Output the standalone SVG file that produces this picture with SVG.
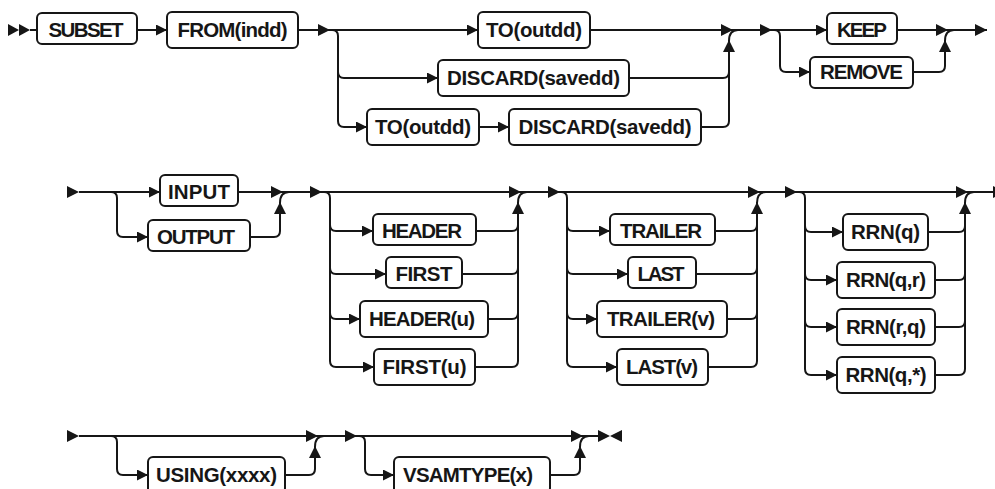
<svg xmlns="http://www.w3.org/2000/svg" width="995" height="489" viewBox="0 0 995 489">
<style>
.n rect{fill:#fff;stroke:#161616;stroke-width:2}
.n text{font-family:"Liberation Sans",Arial,sans-serif;font-weight:bold;font-size:20.5px;fill:#161616;text-anchor:middle}
#connectors path{fill:none;stroke:#161616;stroke-width:2}
#connectors path.s{stroke-width:0;fill:#161616}
.a{marker-end:url(#a)}
.g{marker-end:url(#g)}
</style>
<defs>
<marker id="a" markerUnits="userSpaceOnUse" viewBox="0 0 11 11" markerWidth="11" markerHeight="11" refX="11" refY="5.5" orient="auto"><path d="M0,0L11,5.5L0,11z" fill="#161616"/></marker>
<marker id="g" markerUnits="userSpaceOnUse" viewBox="0 0 12 12" markerWidth="12" markerHeight="12" refX="12" refY="6" orient="auto"><path d="M0,0L12,6L0,12z" fill="#161616"/></marker>
</defs>
<rect width="995" height="489" fill="#fff"/>
<g id="connectors">
<!-- row 1 -->
<path class="s" d="M8,24L19,30L8,36z"/>
<path class="s" d="M19,24L30,30L19,36z"/>
<path d="M30,30L37,30"/>
<path class="a" d="M137,30L167,30"/>
<path class="g" d="M298,30L330,30"/>
<path class="a" d="M330,30L478,30"/>
<path class="a" d="M332,30Q338,30 338,36L338,72Q338,78 344,78L438,78"/>
<path class="a" d="M338,72L338,121Q338,127 344,127L367,127"/>
<path class="a" d="M479,127L509,127"/>
<path class="g" d="M590,30L733,30"/>
<path class="g" d="M629,78L723,78Q729,78 729,72L729,40"/>
<path d="M701,127L723,127Q729,127 729,121L729,72"/>
<path d="M729,41Q729,30 738,30"/>
<path class="g" d="M733,30L772,30"/>
<path class="a" d="M772,30L827,30"/>
<path class="a" d="M774,30Q780,30 780,36L780,66Q780,72 786,72L810,72"/>
<path class="g" d="M897,30L948,30"/>
<path class="g" d="M913,72L939,72Q945,72 945,66L945,40"/>
<path d="M945,41Q945,30 954,30"/>
<path class="g" d="M948,30L987,30"/>
<!-- row 2 -->
<path class="s" d="M67,186L79,192L67,198z"/>
<path class="a" d="M79,192L160,192"/>
<path class="a" d="M111,192Q117,192 117,198L117,231Q117,237 123,237L148,237"/>
<path class="g" d="M238,192L283,192"/>
<path class="g" d="M250,237L274,237Q280,237 280,231L280,202"/>
<path d="M280,203Q280,192 289,192"/>
<path class="g" d="M283,192L322,192"/>
<path class="g" d="M322,192L521,192"/>
<path class="a" d="M324,192Q330,192 330,198L330,225Q330,231 336,231L373,231"/>
<path class="a" d="M330,225L330,268Q330,274 336,274L386,274"/>
<path class="a" d="M330,268L330,313Q330,319 336,319L360,319"/>
<path class="a" d="M330,313L330,361Q330,367 336,367L374,367"/>
<path class="g" d="M476,231L512,231Q518,231 518,225L518,202"/>
<path d="M462,274L512,274Q518,274 518,268L518,225"/>
<path d="M488,319L512,319Q518,319 518,313L518,268"/>
<path d="M475,367L512,367Q518,367 518,361L518,313"/>
<path d="M518,203Q518,192 527,192"/>
<path class="g" d="M521,192L560,192"/>
<path class="g" d="M560,192L760,192"/>
<path class="a" d="M561,192Q567,192 567,198L567,225Q567,231 573,231L610,231"/>
<path class="a" d="M567,225L567,268Q567,274 573,274L628,274"/>
<path class="a" d="M567,268L567,313Q567,319 573,319L597,319"/>
<path class="a" d="M567,313L567,361Q567,367 573,367L617,367"/>
<path class="g" d="M715,231L751,231Q757,231 757,225L757,202"/>
<path d="M696,274L751,274Q757,274 757,268L757,225"/>
<path d="M727,319L751,319Q757,319 757,313L757,268"/>
<path d="M708,367L751,367Q757,367 757,361L757,313"/>
<path d="M757,203Q757,192 766,192"/>
<path class="g" d="M760,192L797,192"/>
<path class="g" d="M797,192L968,192"/>
<path class="a" d="M799,192Q805,192 805,198L805,226Q805,232 811,232L843,232"/>
<path class="a" d="M805,226L805,274Q805,280 811,280L837,280"/>
<path class="a" d="M805,274L805,321Q805,327 811,327L837,327"/>
<path class="a" d="M805,321L805,369Q805,375 811,375L837,375"/>
<path class="g" d="M928,232L959,232Q965,232 965,226L965,202"/>
<path d="M935,280L959,280Q965,280 965,274L965,226"/>
<path d="M935,327L959,327Q965,327 965,321L965,274"/>
<path d="M935,375L959,375Q965,375 965,369L965,321"/>
<path d="M965,203Q965,192 974,192"/>
<path class="g" d="M968,192L1005,192"/>
<!-- row 3 -->
<path class="s" d="M67,430L79,436L67,442z"/>
<path class="g" d="M79,436L318,436"/>
<path class="a" d="M111,436Q117,436 117,442L117,469Q117,475 123,475L148,475"/>
<path class="g" d="M285,475L309,475Q315,475 315,469L315,446"/>
<path d="M315,447Q315,436 324,436"/>
<path class="g" d="M318,436L357,436"/>
<path class="g" d="M357,436L583,436"/>
<path class="a" d="M359,436Q365,436 365,442L365,469Q365,475 371,475L394,475"/>
<path class="g" d="M550,475L574,475Q580,475 580,469L580,446"/>
<path d="M580,447Q580,436 589,436"/>
<path d="M583,436L598,436"/>
<path class="s" d="M598,430L610,436L598,442z"/>
<path class="s" d="M622,430L610,436L622,442z"/>
</g>
<g id="n-subset" class="n"><rect x="37" y="13" width="100" height="31" rx="5"/><text x="86" y="36.5" textLength="75">SUBSET</text></g>
<g id="n-from" class="n"><rect x="167" y="12" width="131" height="36" rx="5"/><text x="232.5" y="36.5" textLength="110">FROM(indd)</text></g>
<g id="n-to1" class="n"><rect x="478" y="12" width="112" height="36" rx="5"/><text x="534" y="36.5" textLength="96">TO(outdd)</text></g>
<g id="n-discard1" class="n"><rect x="438" y="60" width="191" height="36" rx="5"/><text x="533.5" y="84.5" textLength="173">DISCARD(savedd)</text></g>
<g id="n-to2" class="n"><rect x="367" y="109" width="112" height="36" rx="5"/><text x="423" y="133.5" textLength="96">TO(outdd)</text></g>
<g id="n-discard2" class="n"><rect x="509" y="109" width="192" height="36" rx="5"/><text x="605" y="133.5" textLength="173">DISCARD(savedd)</text></g>
<g id="n-keep" class="n"><rect x="827" y="13" width="70" height="31" rx="5"/><text x="862" y="36.5" textLength="50">KEEP</text></g>
<g id="n-remove" class="n"><rect x="810" y="57" width="103" height="31" rx="5"/><text x="861.5" y="78.5" textLength="83">REMOVE</text></g>
<g id="n-input" class="n"><rect x="160" y="175" width="78" height="31" rx="5"/><text x="199" y="198.5" textLength="62">INPUT</text></g>
<g id="n-output" class="n"><rect x="148" y="220" width="102" height="31" rx="5"/><text x="196" y="243.5" textLength="78">OUTPUT</text></g>
<g id="n-header" class="n"><rect x="373" y="214" width="103" height="31" rx="5"/><text x="422" y="237.5" textLength="80">HEADER</text></g>
<g id="n-first" class="n"><rect x="386" y="257" width="76" height="31" rx="5"/><text x="424" y="280.5" textLength="57">FIRST</text></g>
<g id="n-headeru" class="n"><rect x="360" y="301" width="128" height="36" rx="5"/><text x="422" y="325.5" textLength="106">HEADER(u)</text></g>
<g id="n-firstu" class="n"><rect x="374" y="349" width="101" height="36" rx="5"/><text x="424.5" y="373.5" textLength="84">FIRST(u)</text></g>
<g id="n-trailer" class="n"><rect x="610" y="214" width="105" height="31" rx="5"/><text x="661" y="237.5" textLength="82">TRAILER</text></g>
<g id="n-last" class="n"><rect x="628" y="257" width="68" height="31" rx="5"/><text x="661" y="280.5" textLength="47">LAST</text></g>
<g id="n-trailerv" class="n"><rect x="597" y="301" width="130" height="36" rx="5"/><text x="661" y="325.5" textLength="108">TRAILER(v)</text></g>
<g id="n-lastv" class="n"><rect x="617" y="349" width="91" height="36" rx="5"/><text x="662" y="373.5" textLength="72">LAST(v)</text></g>
<g id="n-rrnq" class="n"><rect x="843" y="214" width="85" height="36" rx="5"/><text x="885.5" y="238.5" textLength="69">RRN(q)</text></g>
<g id="n-rrnqr" class="n"><rect x="837" y="262" width="98" height="36" rx="5"/><text x="886" y="286.5" textLength="80">RRN(q,r)</text></g>
<g id="n-rrnrq" class="n"><rect x="837" y="309" width="98" height="36" rx="5"/><text x="886" y="333.5" textLength="80">RRN(r,q)</text></g>
<g id="n-rrnqs" class="n"><rect x="837" y="357" width="98" height="36" rx="5"/><text x="886" y="381.5" textLength="81">RRN(q,*)</text></g>
<g id="n-using" class="n"><rect x="148" y="457" width="137" height="36" rx="5"/><text x="216.5" y="481.5" textLength="121">USING(xxxx)</text></g>
<g id="n-vsamtype" class="n"><rect x="394" y="457" width="156" height="36" rx="5"/><text x="468" y="481.5" textLength="130">VSAMTYPE(x)</text></g>
</svg>
